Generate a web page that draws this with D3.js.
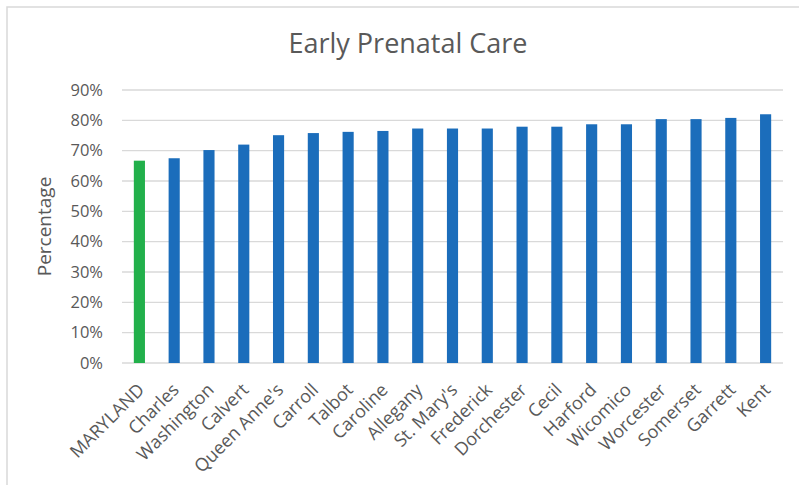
<!DOCTYPE html>
<html>
<head>
<meta charset="utf-8">
<script src="https://cdn.jsdelivr.net/npm/d3@7"></script>
<style>
  html, body { margin: 0; padding: 0; background: #fff; }
  svg { display: block; }
  text { font-family: "Open Sans", sans-serif; fill: #595959; }
</style>
</head>
<body>
<svg id="chart" width="799" height="485"></svg>
<script>
const categories = ["MARYLAND","Charles","Washington","Calvert","Queen Anne's","Carroll","Talbot","Caroline","Allegany","St. Mary's","Frederick","Dorchester","Cecil","Harford","Wicomico","Worcester","Somerset","Garrett","Kent"];
const values = [0.667,0.675,0.702,0.720,0.751,0.758,0.762,0.765,0.773,0.773,0.773,0.779,0.779,0.787,0.787,0.804,0.804,0.808,0.820];
const yTicks = [0,0.1,0.2,0.3,0.4,0.5,0.6,0.7,0.8,0.9];
const title = "Early Prenatal Care";
const yTitle = "Percentage";
const highlight = "MARYLAND";

const svg = d3.select("#chart");
const W = 799, H = 485;
const plot = {left: 122, right: 783, top: 90, bottom: 363};

// chart frame
svg.append("rect").attr("x", 7).attr("y", 7).attr("width", W + 20).attr("height", H + 20)
  .attr("fill", "#fff").attr("stroke", "#d9d9d9").attr("stroke-width", 1.5);

const x = d3.scaleBand().domain(categories).range([plot.left, plot.right])
  .paddingInner(0.68).paddingOuter(0.34);
const y = d3.scaleLinear().domain([0, 0.9]).range([plot.bottom, plot.top]);

// gridlines
svg.append("g").selectAll("line").data(yTicks).join("line")
  .attr("x1", plot.left).attr("x2", plot.right)
  .attr("y1", d => y(d)).attr("y2", d => y(d))
  .attr("stroke", "#d9d9d9").attr("stroke-width", 1.3);

// y axis labels
const yAxis = d3.axisLeft(y).tickValues(yTicks).tickFormat(d3.format(".0%")).tickSize(0).tickPadding(0);
const gy = svg.append("g").attr("transform", `translate(103,0)`).call(yAxis);
gy.select(".domain").remove();
gy.selectAll("text").attr("font-size", 16.5).attr("font-family", "Open Sans, sans-serif").attr("fill", "#595959");

// bars
svg.append("g").selectAll("rect").data(categories).join("rect")
  .attr("x", d => x(d)).attr("width", x.bandwidth())
  .attr("y", (d, i) => y(values[i])).attr("height", (d, i) => y(0) - y(values[i]))
  .attr("fill", d => d === highlight ? "#22b04b" : "#1b6dbb");

// x axis labels
const xAxis = d3.axisBottom(x).tickSize(0).tickPadding(0);
const gx = svg.append("g").attr("transform", `translate(0,${plot.bottom})`).call(xAxis);
gx.select(".domain").remove();
gx.selectAll("text")
  .attr("font-size", 18).attr("font-family", "Open Sans, sans-serif").attr("fill", "#595959")
  .attr("text-anchor", "end").attr("dy", null).attr("y", 0)
  .attr("transform", "translate(6,28) rotate(-45)");

// title
svg.append("text").attr("x", 408).attr("y", 53).attr("text-anchor", "middle")
  .attr("font-size", 27).text(title);

// y title
svg.append("text").attr("transform", `translate(51,${(plot.top + plot.bottom) / 2}) rotate(-90)`)
  .attr("text-anchor", "middle").attr("font-size", 19).text(yTitle);
</script>
</body>
</html>
